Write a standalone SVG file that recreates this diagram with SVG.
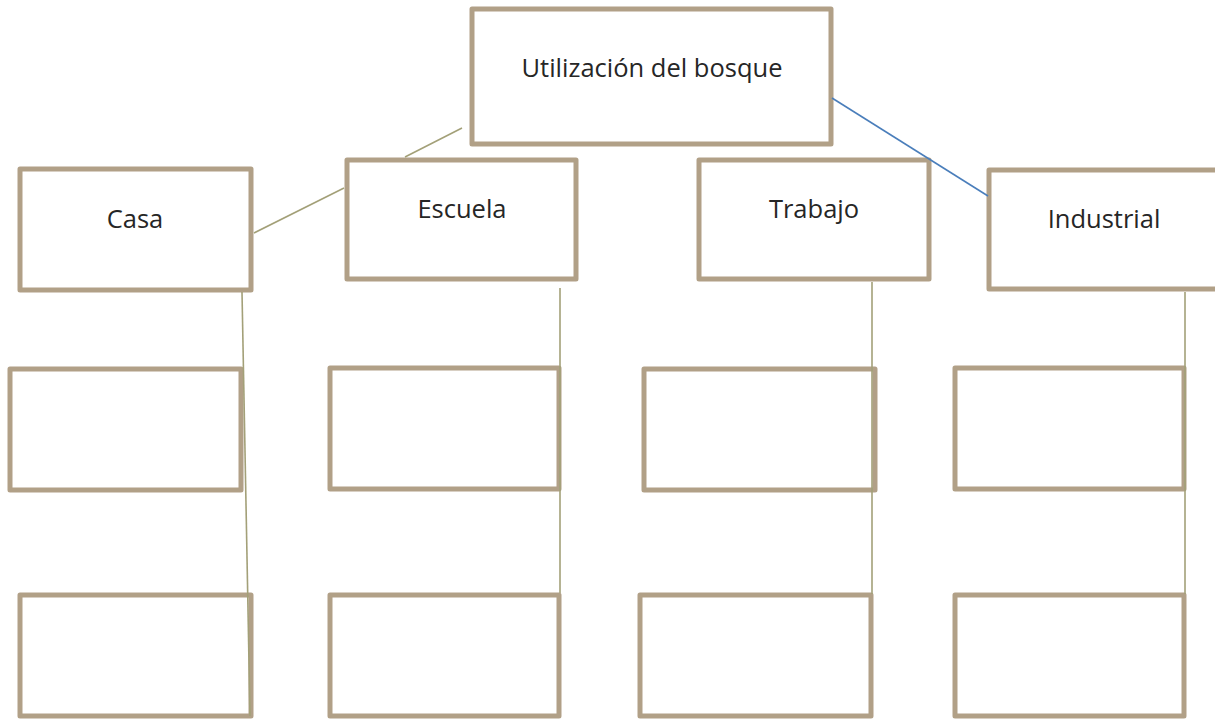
<svg xmlns="http://www.w3.org/2000/svg" width="1215" height="719" viewBox="0 0 1215 719">
<style>
.box{fill:#fff;stroke:#B1A087;stroke-width:5;stroke-linejoin:round}
.lbl{font-family:"Open Sans","Liberation Sans",sans-serif;font-size:25.5px;fill:#262626;text-anchor:middle}
.ln{fill:none;stroke:#A3A078;stroke-width:1.6}
.bl{fill:none;stroke:#4A7EBB;stroke-width:1.6}
</style>
<rect width="1215" height="719" fill="#fff"/>
<g id="nodes">
<g id="root"><rect class="box" x="472" y="9" width="359" height="135"/><text class="lbl" x="652" y="77">Utilización del bosque</text></g>
<g id="casa"><rect class="box" x="20" y="169" width="231" height="121"/><text class="lbl" x="135" y="228">Casa</text></g>
<g id="escuela"><rect class="box" x="347" y="160" width="229" height="119"/><text class="lbl" x="462" y="218">Escuela</text></g>
<g id="trabajo"><rect class="box" x="699" y="160" width="230" height="119"/><text class="lbl" x="814" y="218">Trabajo</text></g>
<g id="industrial"><rect class="box" x="989" y="170" width="232" height="119"/><text class="lbl" x="1104" y="228">Industrial</text></g>
<g id="casa2"><rect class="box" x="10" y="369" width="231" height="121"/></g>
<g id="casa3"><rect class="box" x="20" y="595" width="231" height="121"/></g>
<g id="escuela2"><rect class="box" x="330" y="368" width="229" height="121"/></g>
<g id="escuela3"><rect class="box" x="330" y="595" width="229" height="121"/></g>
<g id="trabajo2"><rect class="box" x="644" y="369" width="231" height="121"/></g>
<g id="trabajo3"><rect class="box" x="640" y="595" width="231" height="121"/></g>
<g id="industrial2"><rect class="box" x="955" y="368" width="229" height="121"/></g>
<g id="industrial3"><rect class="box" x="955" y="595" width="229" height="121"/></g>
</g>
<g id="connectors">
<path class="ln" d="M462,128 L405,157 M344,188 L254,233"/>
<path class="bl" d="M832,98 L988,196"/>
<path class="ln" d="M242,292 L250,716"/>
<path class="ln" d="M560,288 L560,593"/>
<path class="ln" d="M872,282 L872,594"/>
<path class="ln" d="M1185,292 L1185,594"/>
</g>
</svg>
